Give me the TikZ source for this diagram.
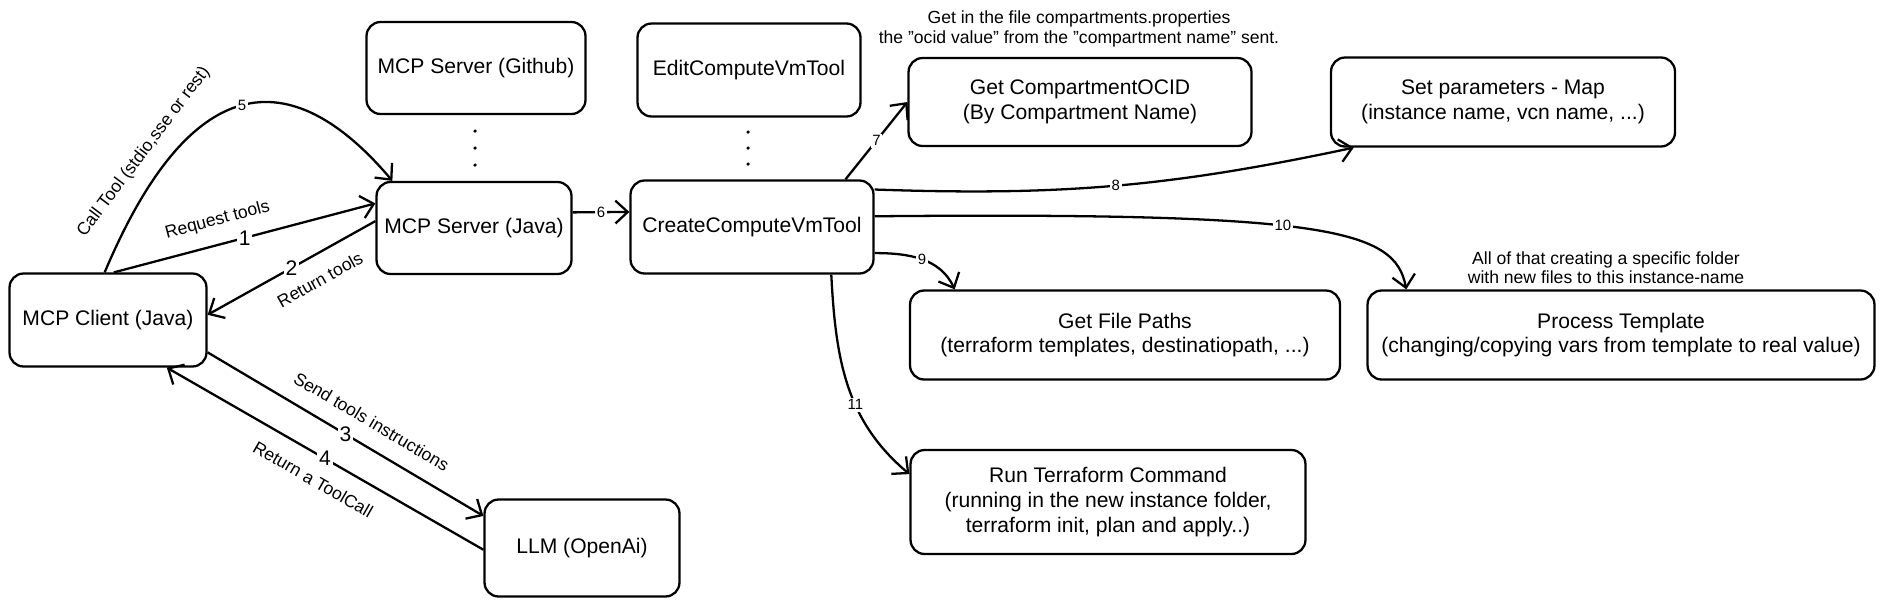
\documentclass[tikz,border=0pt]{standalone}
\usepackage{fontspec}
\setmainfont{Liberation Sans}
\usetikzlibrary{arrows.meta}

\tikzset{
  box/.style={draw=black,line width=1.3pt,rounded corners=8pt,align=center,inner sep=2pt,font=\fontsize{12}{14}\selectfont},
  flow/.style={line width=1.3pt,-{Straight Barb[length=7pt,width=13pt]}},
  num/.style={fill=white,inner sep=1pt,font=\fontsize{12}{12}\selectfont},
  tag/.style={fill=white,inner sep=1pt,font=\fontsize{8.5}{8.5}\selectfont},
  lbl/.style={sloped,font=\fontsize{10}{10}\selectfont},
  note/.style={align=center,font=\fontsize{10}{11}\selectfont}
}

\begin{document}
\begin{tikzpicture}[x=0.02cm,y=-0.02cm]
\useasboundingbox (0,0) rectangle (1886,606);

\node[box,minimum width=3.94cm,minimum height=1.86cm] (client) at (108,320) {MCP Client (Java)};
\node[box,minimum width=3.9cm,minimum height=1.84cm] (server) at (474,228) {MCP Server (Java)};
\node[box,minimum width=4.38cm,minimum height=1.84cm] (github) at (476,68) {MCP Server (Github)};
\node[box,minimum width=3.9cm,minimum height=1.94cm] (llm) at (582,548) {LLM (OpenAi)};
\node[box,minimum width=4.86cm,minimum height=1.86cm] (create) at (752,227) {CreateComputeVmTool};
\node[box,minimum width=4.46cm,minimum height=1.86cm] (edit) at (749,70) {EditComputeVmTool};
\node[box,minimum width=6.86cm,minimum height=1.76cm] (ocid) at (1080,102) {Get CompartmentOCID\\(By Compartment Name)};
\node[box,minimum width=6.88cm,minimum height=1.78cm] (setp) at (1503,102) {Set parameters - Map\\(instance name, vcn name, ...)};
\node[box,minimum width=8.6cm,minimum height=1.78cm] (paths) at (1125,335) {Get File Paths\\(terraform templates, destinatiopath, ...)};
\node[box,minimum width=10.14cm,minimum height=1.78cm] (proc) at (1621,335) {Process Template\\(changing/copying vars from template to real value)};
\node[box,minimum width=7.9cm,minimum height=2.08cm] (run) at (1108,502) {Run Terraform Command\\(running in the new instance folder,\\terraform init, plan and apply..)};

\node[note] (ocidnote) at (1079,29) {Get in the file compartments.properties\\the "ocid value" from the "compartment name" sent.};
\node[note] (foldernote) at (1606,268) {All of that creating a specific folder\\with new files to this instance-name};

\foreach \y in {131,148,165} \fill (475,\y) circle (1pt);
\foreach \y in {132,148,164} \fill (748,\y) circle (1pt);

\draw[flow] (client.83) -- node[num] (n1) {1} node[lbl,above=5pt,pos=0.42] (l1) {Request tools} (server.166);
\draw[flow] (server.176) -- node[num] (n2) {2} node[lbl,below=6pt,pos=0.4] (l2) {Return tools} (client.3);
\draw[flow] (client.-18) -- node[num] (n3) {3} node[lbl,above=6pt,pos=0.55] (l3) {Send tools instructions} (llm.162);
\draw[flow] (llm.181) -- node[num] (n4) {4} node[lbl,below=6pt,pos=0.5] (l4) {Return a ToolCall} (client.-39);
\draw[flow] (client.94) .. controls (190,70) and (290,60) .. node[tag,pos=0.5] (n5) {5} node[lbl,above=5pt,pos=0.22] (l5) {Call Tool (stdio,sse or rest)} (server.150);
\draw[flow] (server.9) -- node[tag] (n6) {6} (create.173);
\draw[flow] (create.27) -- node[tag] (n7) {7} (ocid.west);
\draw[flow] (create.17) to[out=-2,in=192] node[tag] (n8) {8} (setp.197);
\draw[flow] (create.-12) to[out=0,in=115] node[tag] (n9) {9} (paths.165);
\draw[flow] (create.5) .. controls (1330,212) and (1395,230) .. node[tag,pos=0.45] (n10) {10} (proc.168);
\draw[flow] (create.-31) to[out=-87,in=140] node[tag,pos=0.6] (n11) {11} (run.172);
\end{tikzpicture}
\end{document}
